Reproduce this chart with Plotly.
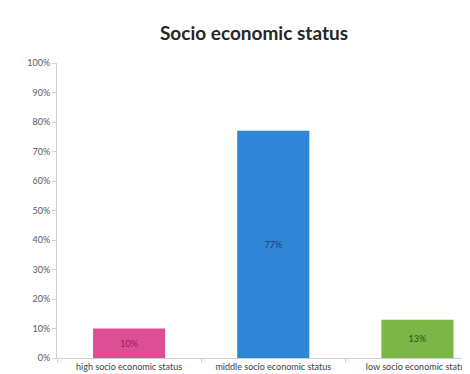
import plotly.graph_objects as go

categories = ["high socio economic status", "middle socio economic status", "low socio economic status"]
values = [0.10, 0.77, 0.13]
labels = ["10%", "77%", "13%"]
bar_colors = ["#dc4f95", "#2f86d6", "#7cb548"]
text_colors = ["#9c1a52", "#1f3a66", "#2f5219"]

fig = go.Figure(go.Bar(
    x=categories, y=values, text=labels,
    textposition="inside", insidetextanchor="middle",
    textfont=dict(family="Lato", size=9, color=text_colors),
    marker=dict(color=bar_colors, line=dict(width=0)),
    width=0.5,
))

fig.update_layout(
    width=470, height=374,
    margin=dict(l=49, r=0, t=55, b=24),
    plot_bgcolor="white", paper_bgcolor="white",
    title=dict(text="<b>Socio economic status</b>", x=246 / 470, xanchor="center",
               y=1 - 25 / 374, yanchor="middle", yref="container",
               font=dict(family="Lato", size=19, color="#262626")),
    showlegend=False,
    bargap=0.5,
)
fig.update_xaxes(
    range=[-0.5, 2.42], showline=True, linecolor="#d0d0d0", linewidth=1,
    ticks="outside", tickson="boundaries", ticklen=4, tickcolor="#d0d0d0",
    tickfont=dict(family="Lato", size=9, color="#404040"),
    showgrid=False, fixedrange=True, automargin=False,
)
fig.update_yaxes(
    range=[0, 1], dtick=0.1, tickformat=".0%", showline=True,
    linecolor="#d0d0d0", linewidth=1, ticks="outside", ticklen=4,
    tickcolor="#d0d0d0", showgrid=False, zeroline=False, automargin=False,
    tickfont=dict(family="Lato", size=9, color="#595959"),
)

fig.write_html("out.html")
